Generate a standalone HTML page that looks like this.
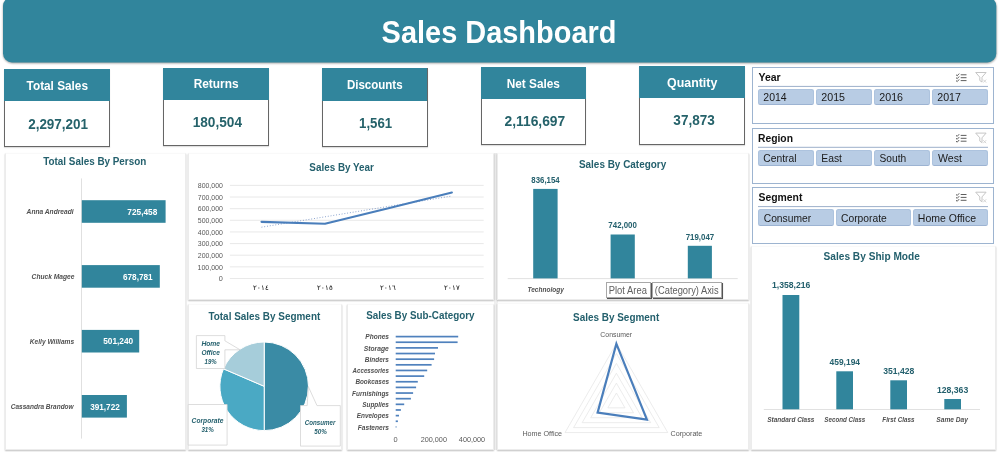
<!DOCTYPE html>
<html lang="en"><head><meta charset="utf-8"><title>Sales Dashboard</title>
<style>
html,body{margin:0;padding:0;background:#fff}
#d{position:relative;width:1000px;height:452px;overflow:hidden;background:#fff;font-family:"Liberation Sans",sans-serif}
#d div,#d svg{position:absolute}
#d span{position:absolute;white-space:nowrap;line-height:1;transform-origin:0 50%;display:block}
</style></head><body><div id="d">
<div style="left:4.4px;top:68.7px;width:105.9px;height:78.6px;background:#fff;border:1px solid #666;box-sizing:border-box;box-shadow:0 1px 1px rgba(0,0,0,.12)"></div>
<div style="left:4.4px;top:68.7px;width:105.6px;height:32.3px;background:#31859c"></div>
<div style="left:162.9px;top:67.6px;width:106.2px;height:78.8px;background:#fff;border:1px solid #666;box-sizing:border-box;box-shadow:0 1px 1px rgba(0,0,0,.12)"></div>
<div style="left:162.9px;top:67.6px;width:105.9px;height:32.4px;background:#31859c"></div>
<div style="left:321.6px;top:68.2px;width:106.2px;height:78.8px;background:#fff;border:1px solid #666;box-sizing:border-box;box-shadow:0 1px 1px rgba(0,0,0,.12)"></div>
<div style="left:321.6px;top:68.2px;width:105.9px;height:32.7px;background:#31859c"></div>
<div style="left:481.0px;top:67.0px;width:105.0px;height:78.2px;background:#fff;border:1px solid #666;box-sizing:border-box;box-shadow:0 1px 1px rgba(0,0,0,.12)"></div>
<div style="left:481.0px;top:67.0px;width:104.7px;height:32.1px;background:#31859c"></div>
<div style="left:639.4px;top:66.4px;width:105.6px;height:78.2px;background:#fff;border:1px solid #666;box-sizing:border-box;box-shadow:0 1px 1px rgba(0,0,0,.12)"></div>
<div style="left:639.4px;top:66.4px;width:105.3px;height:32.1px;background:#31859c"></div>
<div style="left:751.7px;top:66.8px;width:242.5px;height:57.3px;background:#fff;border:1px solid #9db4d0;box-sizing:border-box"></div>
<div style="left:758.0px;top:89.2px;width:56.3px;height:16.3px;background:#b8cce4;border:1px solid #adc3de;border-bottom-color:#9cb3d2;border-radius:2.5px;box-sizing:border-box"></div>
<div style="left:815.9px;top:89.2px;width:56.5px;height:16.3px;background:#b8cce4;border:1px solid #adc3de;border-bottom-color:#9cb3d2;border-radius:2.5px;box-sizing:border-box"></div>
<div style="left:874.0px;top:89.2px;width:56.3px;height:16.3px;background:#b8cce4;border:1px solid #adc3de;border-bottom-color:#9cb3d2;border-radius:2.5px;box-sizing:border-box"></div>
<div style="left:932.0px;top:89.2px;width:56.0px;height:16.3px;background:#b8cce4;border:1px solid #adc3de;border-bottom-color:#9cb3d2;border-radius:2.5px;box-sizing:border-box"></div>
<div style="left:751.7px;top:127.7px;width:242.5px;height:56.3px;background:#fff;border:1px solid #9db4d0;box-sizing:border-box"></div>
<div style="left:758.0px;top:150.1px;width:56.3px;height:16.3px;background:#b8cce4;border:1px solid #adc3de;border-bottom-color:#9cb3d2;border-radius:2.5px;box-sizing:border-box"></div>
<div style="left:815.9px;top:150.1px;width:56.5px;height:16.3px;background:#b8cce4;border:1px solid #adc3de;border-bottom-color:#9cb3d2;border-radius:2.5px;box-sizing:border-box"></div>
<div style="left:874.0px;top:150.1px;width:56.3px;height:16.3px;background:#b8cce4;border:1px solid #adc3de;border-bottom-color:#9cb3d2;border-radius:2.5px;box-sizing:border-box"></div>
<div style="left:932.0px;top:150.1px;width:56.0px;height:16.3px;background:#b8cce4;border:1px solid #adc3de;border-bottom-color:#9cb3d2;border-radius:2.5px;box-sizing:border-box"></div>
<div style="left:751.7px;top:187.0px;width:242.5px;height:57.3px;background:#fff;border:1px solid #9db4d0;box-sizing:border-box"></div>
<div style="left:758.2px;top:209.4px;width:76.0px;height:16.3px;background:#b8cce4;border:1px solid #adc3de;border-bottom-color:#9cb3d2;border-radius:2.5px;box-sizing:border-box"></div>
<div style="left:835.6px;top:209.4px;width:75.9px;height:16.3px;background:#b8cce4;border:1px solid #adc3de;border-bottom-color:#9cb3d2;border-radius:2.5px;box-sizing:border-box"></div>
<div style="left:912.9px;top:209.4px;width:75.1px;height:16.3px;background:#b8cce4;border:1px solid #adc3de;border-bottom-color:#9cb3d2;border-radius:2.5px;box-sizing:border-box"></div>
<div style="left:494.0px;top:153.0px;width:4.0px;height:297.0px;background:#efefef"></div>
<div style="left:494.0px;top:153.0px;width:4.0px;height:147.0px;background:#eaeaea"></div>
<div style="left:4.8px;top:152.5px;width:181.2px;height:297.5px;background:#fff;border:1px solid #ececec;border-top-color:#f9f9f9;box-sizing:border-box;box-shadow:0 1px 1.5px rgba(0,0,0,.25)"></div>
<div style="left:187.6px;top:152.8px;width:306.7px;height:147.6px;background:#fff;border:1px solid #ececec;border-top-color:#f9f9f9;box-sizing:border-box;box-shadow:0 1px 1.5px rgba(0,0,0,.25)"></div>
<div style="left:497.1px;top:152.6px;width:251.9px;height:147.8px;background:#fff;border:1px solid #ececec;border-top-color:#f9f9f9;box-sizing:border-box;box-shadow:0 1px 1.5px rgba(0,0,0,.25)"></div>
<div style="left:187.8px;top:303.6px;width:154.7px;height:146.4px;background:#fff;border:1px solid #ececec;border-top-color:#f9f9f9;box-sizing:border-box;box-shadow:0 1px 1.5px rgba(0,0,0,.25)"></div>
<div style="left:346.9px;top:303.6px;width:146.7px;height:146.4px;background:#fff;border:1px solid #ececec;border-top-color:#f9f9f9;box-sizing:border-box;box-shadow:0 1px 1.5px rgba(0,0,0,.25)"></div>
<div style="left:496.9px;top:303.0px;width:252.1px;height:147.0px;background:#fff;border:1px solid #ececec;border-top-color:#f9f9f9;box-sizing:border-box;box-shadow:0 1px 1.5px rgba(0,0,0,.25)"></div>
<div style="left:751.3px;top:245.6px;width:244.7px;height:204.4px;background:#fff;border:1px solid #ececec;border-top-color:#f9f9f9;box-sizing:border-box;box-shadow:0 1px 1.5px rgba(0,0,0,.25)"></div>
<svg style="left:0;top:0" width="1000" height="452" viewBox="0 0 1000 452"><defs><filter id="bs" x="-5%" y="-20%" width="110%" height="150%"><feGaussianBlur stdDeviation="1.3"/></filter></defs><rect x="3.2" y="-2" width="993.2" height="65.2" rx="9" fill="#000" opacity="0.42" filter="url(#bs)"/><rect x="3" y="-3" width="993.3" height="65.5" rx="9" fill="#31859c"/><rect x="758" y="85.9" width="230" height="1" fill="#9db0ca"/><g transform="translate(955.7,73.2)" fill="none" stroke="#555" stroke-width="0.95"><path d="M0.3 1.5l1.2 1.1 2-2.2M0.3 4.4l1.2 1.1 2-2.2M0.3 7.3l1.2 1.1 2-2.2"/><path d="M5 1.6h5.8M5 4.5h5.8M5 7.4h5.8"/></g><g transform="translate(975.2,72.0)" fill="none" stroke="#c6c6c6" stroke-width="1"><path d="M0.5 0.5h10.4l-4.1 4.7v4.8l-2.2-1.5v-3.3z"/><path d="M8 7.6l3 3M11 7.6l-3 3" stroke="#d0d0d0" stroke-width="0.9"/></g><rect x="758" y="146.8" width="230" height="1" fill="#9db0ca"/><g transform="translate(955.7,133.8)" fill="none" stroke="#555" stroke-width="0.95"><path d="M0.3 1.5l1.2 1.1 2-2.2M0.3 4.4l1.2 1.1 2-2.2M0.3 7.3l1.2 1.1 2-2.2"/><path d="M5 1.6h5.8M5 4.5h5.8M5 7.4h5.8"/></g><g transform="translate(975.2,132.6)" fill="none" stroke="#c6c6c6" stroke-width="1"><path d="M0.5 0.5h10.4l-4.1 4.7v4.8l-2.2-1.5v-3.3z"/><path d="M8 7.6l3 3M11 7.6l-3 3" stroke="#d0d0d0" stroke-width="0.9"/></g><rect x="758" y="206.1" width="230" height="1" fill="#9db0ca"/><g transform="translate(955.7,192.9)" fill="none" stroke="#555" stroke-width="0.95"><path d="M0.3 1.5l1.2 1.1 2-2.2M0.3 4.4l1.2 1.1 2-2.2M0.3 7.3l1.2 1.1 2-2.2"/><path d="M5 1.6h5.8M5 4.5h5.8M5 7.4h5.8"/></g><g transform="translate(975.2,191.7)" fill="none" stroke="#c6c6c6" stroke-width="1"><path d="M0.5 0.5h10.4l-4.1 4.7v4.8l-2.2-1.5v-3.3z"/><path d="M8 7.6l3 3M11 7.6l-3 3" stroke="#d0d0d0" stroke-width="0.9"/></g><rect x="81.0" y="178.4" width="0.8" height="260.2" fill="#d9d9d9"/><rect x="81.8" y="200.2" width="83.8" height="22.6" fill="#31859c"/><rect x="81.8" y="265.1" width="78.0" height="22.6" fill="#31859c"/><rect x="81.8" y="329.9" width="57.4" height="22.6" fill="#31859c"/><rect x="81.8" y="395.0" width="45.1" height="22.6" fill="#31859c"/><line x1="229.9" x2="483.7" y1="278.50" y2="278.50" stroke="#e3e3e3" stroke-width="0.8"/><line x1="229.9" x2="483.7" y1="266.86" y2="266.86" stroke="#e3e3e3" stroke-width="0.8"/><line x1="229.9" x2="483.7" y1="255.22" y2="255.22" stroke="#e3e3e3" stroke-width="0.8"/><line x1="229.9" x2="483.7" y1="243.59" y2="243.59" stroke="#e3e3e3" stroke-width="0.8"/><line x1="229.9" x2="483.7" y1="231.95" y2="231.95" stroke="#e3e3e3" stroke-width="0.8"/><line x1="229.9" x2="483.7" y1="220.31" y2="220.31" stroke="#e3e3e3" stroke-width="0.8"/><line x1="229.9" x2="483.7" y1="208.68" y2="208.68" stroke="#e3e3e3" stroke-width="0.8"/><line x1="229.9" x2="483.7" y1="197.04" y2="197.04" stroke="#e3e3e3" stroke-width="0.8"/><line x1="229.9" x2="483.7" y1="185.40" y2="185.40" stroke="#e3e3e3" stroke-width="0.8"/><line x1="261.5" y1="227.2" x2="451.9" y2="196.0" stroke="#7592c4" stroke-width="0.9" stroke-dasharray="0.9 1.9"/><polyline fill="none" stroke="#4a7ebb" stroke-width="2.1" stroke-linejoin="round" stroke-linecap="round" points="261.5,221.9 325.0,223.7 388.4,208.2 451.9,192.6"/><line x1="507.7" x2="737.7" y1="278.6" y2="278.6" stroke="#d9d9d9" stroke-width="0.8"/><rect x="533.2" y="188.9" width="24.4" height="89.5" fill="#31859c"/><rect x="610.6" y="234.5" width="24.2" height="43.9" fill="#31859c"/><rect x="687.8" y="245.8" width="24.1" height="32.6" fill="#31859c"/><line x1="763.8" x2="980" y1="409.5" y2="409.5" stroke="#d9d9d9" stroke-width="0.8"/><rect x="782.5" y="295.0" width="16.8" height="114.3" fill="#31859c"/><rect x="836.3" y="371.3" width="16.7" height="38.0" fill="#31859c"/><rect x="890.3" y="380.3" width="16.7" height="29.0" fill="#31859c"/><rect x="944.3" y="399.0" width="16.7" height="10.3" fill="#31859c"/><rect x="395.7" y="335.75" width="62.5" height="1.7" fill="#4f81bd"/><rect x="395.7" y="341.39" width="61.9" height="1.7" fill="#4f81bd"/><rect x="395.7" y="347.04" width="42.3" height="1.7" fill="#4f81bd"/><rect x="395.7" y="352.68" width="39.3" height="1.7" fill="#4f81bd"/><rect x="395.7" y="358.33" width="38.4" height="1.7" fill="#4f81bd"/><rect x="395.7" y="363.97" width="35.9" height="1.7" fill="#4f81bd"/><rect x="395.7" y="369.61" width="31.5" height="1.7" fill="#4f81bd"/><rect x="395.7" y="375.26" width="28.5" height="1.7" fill="#4f81bd"/><rect x="395.7" y="380.90" width="22.1" height="1.7" fill="#4f81bd"/><rect x="395.7" y="386.55" width="20.4" height="1.7" fill="#4f81bd"/><rect x="395.7" y="392.19" width="17.4" height="1.7" fill="#4f81bd"/><rect x="395.7" y="397.83" width="15.2" height="1.7" fill="#4f81bd"/><rect x="395.7" y="403.48" width="8.5" height="1.7" fill="#4f81bd"/><rect x="395.7" y="409.12" width="5.2" height="1.7" fill="#4f81bd"/><rect x="395.7" y="414.77" width="3.3" height="1.7" fill="#4f81bd"/><rect x="395.7" y="420.41" width="2.2" height="1.7" fill="#4f81bd"/><rect x="395.7" y="426.05" width="0.7" height="1.7" fill="#4f81bd"/><path d="M264.2,386.3L264.20,342.00A44.3,44.3 0 0 1 264.20,430.60Z" fill="#3a8ba5" stroke="#fff" stroke-width="1" stroke-linejoin="round"/><path d="M264.2,386.3L264.20,430.60A44.3,44.3 0 0 1 223.48,368.85Z" fill="#4aa9c4" stroke="#fff" stroke-width="1" stroke-linejoin="round"/><path d="M264.2,386.3L223.48,368.85A44.3,44.3 0 0 1 264.20,342.00Z" fill="#a6cdda" stroke="#fff" stroke-width="1" stroke-linejoin="round"/><path d="M196.4,335.6H224.9V340.8L240.1,349.8H224.9V368.5H196.4Z" fill="#fff" stroke="#d4d4d4" stroke-width="0.8"/><path d="M188.2,404.5H227.1V445.1H188.2Z" fill="#fff" stroke="#d4d4d4" stroke-width="0.8"/><path d="M300.5,405.6H307.2L308.3,386.6L317,405.6H340.3V446.1H300.5Z" fill="#fff" stroke="#d4d4d4" stroke-width="0.8"/><polygon fill="none" stroke="#e4e4e4" stroke-width="0.7" points="616.40,393.02 624.96,407.84 607.84,407.84"/><polygon fill="none" stroke="#e4e4e4" stroke-width="0.7" points="616.40,383.13 633.52,412.78 599.28,412.78"/><polygon fill="none" stroke="#e4e4e4" stroke-width="0.7" points="616.40,373.25 642.08,417.72 590.72,417.72"/><polygon fill="none" stroke="#e4e4e4" stroke-width="0.7" points="616.40,363.37 650.64,422.67 582.16,422.67"/><polygon fill="none" stroke="#e4e4e4" stroke-width="0.7" points="616.40,353.48 659.20,427.61 573.60,427.61"/><polygon fill="none" stroke="#e4e4e4" stroke-width="0.7" points="616.40,343.60 667.76,432.55 565.04,432.55"/><polygon fill="none" stroke="#4a7ebb" stroke-width="2.2" stroke-linejoin="miter" points="616.4,343.8 646.9,419.7 597.6,412.6"/></svg>
<div style="left:605.7px;top:282.4px;width:44.9px;height:15.2px;background:#fff;border:1px solid #a8a8a8;box-sizing:border-box;box-shadow:1.2px 1.2px 0.6px rgba(40,40,40,.8)"></div>
<div style="left:651.8px;top:282.4px;width:70.1px;height:15.2px;background:#fff;border:1px solid #a8a8a8;box-sizing:border-box;box-shadow:1.2px 1.2px 0.6px rgba(40,40,40,.8)"></div>
<span style="left:382px;top:16px;font-size:32.0px;font-weight:700;color:#fff;transform:translateX(-0.40px) scaleX(0.9043)">Sales Dashboard</span>
<span style="left:26px;top:80px;font-size:12.0px;font-weight:700;color:#fff;transform:translateX(0.60px) scaleX(0.9823)">Total Sales</span>
<span style="left:194px;top:78px;font-size:12.0px;font-weight:700;color:#fff;transform:translateX(-0.34px) scaleX(0.9898)">Returns</span>
<span style="left:347px;top:79px;font-size:12.0px;font-weight:700;color:#fff;transform:translateX(-0.12px) scaleX(0.9595)">Discounts</span>
<span style="left:507px;top:78px;font-size:12.0px;font-weight:700;color:#fff;transform:translateX(-0.34px) scaleX(0.9858)">Net Sales</span>
<span style="left:667px;top:77px;font-size:12.0px;font-weight:700;color:#fff;transform:translateX(0.08px) scaleX(1.0323)">Quantity</span>
<span style="left:28px;top:117px;font-size:14.5px;font-weight:700;color:#25626a;transform:translateX(0.14px) scaleX(0.9292)">2,297,201</span>
<span style="left:193px;top:115px;font-size:14.5px;font-weight:700;color:#25626a;transform:translateX(-0.34px) scaleX(0.9408)">180,504</span>
<span style="left:360px;top:116px;font-size:14.5px;font-weight:700;color:#25626a;transform:translateX(-0.91px) scaleX(0.9115)">1,561</span>
<span style="left:505px;top:114px;font-size:14.5px;font-weight:700;color:#25626a;transform:translateX(-0.48px) scaleX(0.9528)">2,116,697</span>
<span style="left:673px;top:113px;font-size:14.5px;font-weight:700;color:#25626a;transform:translateX(0.37px) scaleX(0.9345)">37,873</span>
<span style="left:763px;top:92px;font-size:10.6px;color:#1a1a1a;transform:translateX(0.30px) scaleX(0.9912)">2014</span>
<span style="left:821px;top:92px;font-size:10.6px;color:#1a1a1a;transform:translateX(0.30px) scaleX(1.0066)">2015</span>
<span style="left:879px;top:92px;font-size:10.6px;color:#1a1a1a;transform:translateX(0.30px) scaleX(1.0066)">2016</span>
<span style="left:937px;top:92px;font-size:10.6px;color:#1a1a1a;transform:translateX(0.30px) scaleX(1.0023)">2017</span>
<span style="left:758px;top:72px;font-size:11.3px;font-weight:700;color:#111;transform:translateX(0.47px) scaleX(0.9319)">Year</span>
<span style="left:763px;top:153px;font-size:10.6px;color:#1a1a1a;transform:translateX(0.31px) scaleX(0.9727)">Central</span>
<span style="left:822px;top:153px;font-size:10.6px;color:#1a1a1a;transform:translateX(-0.73px) scaleX(0.9756)">East</span>
<span style="left:880px;top:153px;font-size:10.6px;color:#1a1a1a;transform:translateX(-0.48px) scaleX(0.9623)">South</span>
<span style="left:938px;top:153px;font-size:10.6px;color:#1a1a1a;transform:translateX(0.00px) scaleX(1.0000)">West</span>
<span style="left:758px;top:133px;font-size:11.3px;font-weight:700;color:#111;transform:translateX(0.02px) scaleX(0.9129)">Region</span>
<span style="left:764px;top:213px;font-size:10.6px;color:#1a1a1a;transform:translateX(-0.29px) scaleX(0.9720)">Consumer</span>
<span style="left:841px;top:213px;font-size:10.6px;color:#1a1a1a;transform:translateX(0.01px) scaleX(0.9707)">Corporate</span>
<span style="left:918px;top:213px;font-size:10.6px;color:#1a1a1a;transform:translateX(-0.14px) scaleX(0.9904)">Home Office</span>
<span style="left:758px;top:192px;font-size:11.3px;font-weight:700;color:#111;transform:translateX(0.47px) scaleX(0.9206)">Segment</span>
<span style="left:43px;top:157px;font-size:10.1px;font-weight:700;color:#24606d;transform:translateX(0.20px) scaleX(0.9790)">Total Sales By Person</span>
<span style="left:26px;top:208px;font-size:7.6px;font-weight:700;font-style:italic;color:#505050;transform:translateX(0.60px) scaleX(0.8744)">Anna Andreadi</span>
<span style="left:127px;top:207px;font-size:9.4px;font-weight:700;color:#fff;transform:translateX(0.36px) scaleX(0.8827)">725,458</span>
<span style="left:31px;top:273px;font-size:7.6px;font-weight:700;font-style:italic;color:#505050;transform:translateX(0.58px) scaleX(0.8753)">Chuck Magee</span>
<span style="left:123px;top:272px;font-size:9.4px;font-weight:700;color:#fff;transform:translateX(-0.02px) scaleX(0.8762)">678,781</span>
<span style="left:30px;top:338px;font-size:7.6px;font-weight:700;font-style:italic;color:#505050;transform:translateX(-0.22px) scaleX(0.8693)">Kelly Williams</span>
<span style="left:103px;top:336px;font-size:9.4px;font-weight:700;color:#fff;transform:translateX(0.18px) scaleX(0.8857)">501,240</span>
<span style="left:11px;top:403px;font-size:7.6px;font-weight:700;font-style:italic;color:#505050;transform:translateX(-0.21px) scaleX(0.8558)">Cassandra Brandow</span>
<span style="left:90px;top:402px;font-size:9.4px;font-weight:700;color:#fff;transform:translateX(0.18px) scaleX(0.8722)">391,722</span>
<span style="left:309px;top:163px;font-size:10.1px;font-weight:700;color:#24606d;transform:translateX(0.36px) scaleX(0.9780)">Sales By Year</span>
<span style="left:219px;top:275px;font-size:7.3px;color:#595959;transform:translateX(-0.15px) scaleX(1.0000)">0</span>
<span style="left:198px;top:264px;font-size:7.3px;color:#595959;transform:translateX(-0.48px) scaleX(0.9628)">100,000</span>
<span style="left:198px;top:252px;font-size:7.3px;color:#595959;transform:translateX(-0.24px) scaleX(0.9534)">200,000</span>
<span style="left:198px;top:240px;font-size:7.3px;color:#595959;transform:translateX(-0.24px) scaleX(0.9534)">300,000</span>
<span style="left:198px;top:229px;font-size:7.3px;color:#595959;transform:translateX(-0.24px) scaleX(0.9534)">400,000</span>
<span style="left:198px;top:217px;font-size:7.3px;color:#595959;transform:translateX(-0.24px) scaleX(0.9534)">500,000</span>
<span style="left:198px;top:205px;font-size:7.3px;color:#595959;transform:translateX(-0.24px) scaleX(0.9534)">600,000</span>
<span style="left:198px;top:194px;font-size:7.3px;color:#595959;transform:translateX(-0.24px) scaleX(0.9534)">700,000</span>
<span style="left:198px;top:182px;font-size:7.3px;color:#595959;transform:translateX(-0.24px) scaleX(0.9534)">800,000</span>
<span style="left:253px;top:285px;font-size:6.6px;font-family:"DejaVu Sans", sans-serif;color:#a6a6a6;transform:translateX(0.08px) scaleX(1.1381)">٢٠١٤</span>
<span style="left:317px;top:285px;font-size:6.6px;font-family:"DejaVu Sans", sans-serif;color:#a6a6a6;transform:translateX(-0.42px) scaleX(1.1381)">٢٠١٥</span>
<span style="left:380px;top:285px;font-size:6.6px;font-family:"DejaVu Sans", sans-serif;color:#a6a6a6;transform:translateX(0.01px) scaleX(1.0822)">٢٠١٦</span>
<span style="left:444px;top:285px;font-size:6.6px;font-family:"DejaVu Sans", sans-serif;color:#a6a6a6;transform:translateX(-0.49px) scaleX(1.0822)">٢٠١٧</span>
<span style="left:579px;top:160px;font-size:10.1px;font-weight:700;color:#24606d;transform:translateX(-0.05px) scaleX(0.9847)">Sales By Category</span>
<span style="left:531px;top:176px;font-size:8.6px;font-weight:700;color:#24606d;transform:translateX(0.37px) scaleX(0.9106)">836,154</span>
<span style="left:608px;top:221px;font-size:8.6px;font-weight:700;color:#24606d;transform:translateX(0.37px) scaleX(0.9180)">742,000</span>
<span style="left:685px;top:233px;font-size:8.6px;font-weight:700;color:#24606d;transform:translateX(0.67px) scaleX(0.9180)">719,047</span>
<span style="left:527px;top:286px;font-size:7.6px;font-weight:700;font-style:italic;color:#505050;transform:translateX(0.47px) scaleX(0.8583)">Technology</span>
<span style="left:609px;top:286px;font-size:10.3px;color:#606060;transform:translateX(-0.29px) scaleX(0.9134)">Plot Area</span>
<span style="left:655px;top:286px;font-size:10.3px;color:#606060;transform:translateX(-0.15px) scaleX(0.9058)">(Category) Axis</span>
<span style="left:208px;top:312px;font-size:10.1px;font-weight:700;color:#24606d;transform:translateX(0.40px) scaleX(0.9841)">Total Sales By Segment</span>
<span style="left:201px;top:340px;font-size:7.8px;font-weight:700;font-style:italic;color:#24606d;transform:translateX(0.38px) scaleX(0.8636)">Home</span>
<span style="left:201px;top:349px;font-size:7.8px;font-weight:700;font-style:italic;color:#24606d;transform:translateX(0.39px) scaleX(0.8419)">Office</span>
<span style="left:204px;top:358px;font-size:7.8px;font-weight:700;font-style:italic;color:#24606d;transform:translateX(0.60px) scaleX(0.7742)">19%</span>
<span style="left:191px;top:417px;font-size:7.8px;font-weight:700;font-style:italic;color:#24606d;transform:translateX(0.59px) scaleX(0.8558)">Corporate</span>
<span style="left:201px;top:426px;font-size:7.8px;font-weight:700;font-style:italic;color:#24606d;transform:translateX(0.40px) scaleX(0.7969)">31%</span>
<span style="left:305px;top:419px;font-size:7.8px;font-weight:700;font-style:italic;color:#24606d;transform:translateX(-0.20px) scaleX(0.7935)">Consumer</span>
<span style="left:314px;top:428px;font-size:7.8px;font-weight:700;font-style:italic;color:#24606d;transform:translateX(0.20px) scaleX(0.8033)">50%</span>
<span style="left:366px;top:311px;font-size:10.1px;font-weight:700;color:#24606d;transform:translateX(0.16px) scaleX(0.9752)">Sales By Sub-Category</span>
<span style="left:365px;top:333px;font-size:7.6px;font-weight:700;font-style:italic;color:#505050;transform:translateX(0.28px) scaleX(0.8649)">Phones</span>
<span style="left:364px;top:345px;font-size:7.6px;font-weight:700;font-style:italic;color:#505050;transform:translateX(-0.22px) scaleX(0.8865)">Storage</span>
<span style="left:365px;top:356px;font-size:7.6px;font-weight:700;font-style:italic;color:#505050;transform:translateX(-0.21px) scaleX(0.8505)">Binders</span>
<span style="left:352px;top:367px;font-size:7.6px;font-weight:700;font-style:italic;color:#505050;transform:translateX(0.60px) scaleX(0.8101)">Accessories</span>
<span style="left:355px;top:378px;font-size:7.6px;font-weight:700;font-style:italic;color:#505050;transform:translateX(0.39px) scaleX(0.8367)">Bookcases</span>
<span style="left:352px;top:390px;font-size:7.6px;font-weight:700;font-style:italic;color:#505050;transform:translateX(0.09px) scaleX(0.8477)">Furnishings</span>
<span style="left:362px;top:401px;font-size:7.6px;font-weight:700;font-style:italic;color:#505050;transform:translateX(0.19px) scaleX(0.8448)">Supplies</span>
<span style="left:357px;top:412px;font-size:7.6px;font-weight:700;font-style:italic;color:#505050;transform:translateX(-0.21px) scaleX(0.8427)">Envelopes</span>
<span style="left:358px;top:424px;font-size:7.6px;font-weight:700;font-style:italic;color:#505050;transform:translateX(-0.22px) scaleX(0.8681)">Fasteners</span>
<span style="left:393px;top:436px;font-size:7.3px;color:#595959;transform:translateX(0.55px) scaleX(1.0156)">0</span>
<span style="left:420px;top:436px;font-size:7.3px;color:#595959;transform:translateX(0.65px) scaleX(0.9962)">200,000</span>
<span style="left:459px;top:436px;font-size:7.3px;color:#595959;transform:translateX(-0.15px) scaleX(0.9962)">400,000</span>
<span style="left:573px;top:313px;font-size:10.1px;font-weight:700;color:#24606d;transform:translateX(0.05px) scaleX(0.9845)">Sales By Segment</span>
<span style="left:600px;top:331px;font-size:7.6px;color:#595959;transform:translateX(0.37px) scaleX(0.9051)">Consumer</span>
<span style="left:522px;top:430px;font-size:7.6px;color:#595959;transform:translateX(0.43px) scaleX(0.9430)">Home Office</span>
<span style="left:670px;top:430px;font-size:7.6px;color:#595959;transform:translateX(0.46px) scaleX(0.9444)">Corporate</span>
<span style="left:823px;top:252px;font-size:10.1px;font-weight:700;color:#24606d;transform:translateX(0.55px) scaleX(1.0042)">Sales By Ship Mode</span>
<span style="left:772px;top:281px;font-size:8.8px;font-weight:700;color:#24606d;transform:translateX(0.01px) scaleX(0.9804)">1,358,216</span>
<span style="left:829px;top:358px;font-size:8.8px;font-weight:700;color:#24606d;transform:translateX(0.50px) scaleX(0.9606)">459,194</span>
<span style="left:883px;top:367px;font-size:8.8px;font-weight:700;color:#24606d;transform:translateX(0.16px) scaleX(0.9776)">351,428</span>
<span style="left:937px;top:386px;font-size:8.8px;font-weight:700;color:#24606d;transform:translateX(-0.09px) scaleX(0.9855)">128,363</span>
<span style="left:767px;top:416px;font-size:7.6px;font-weight:700;font-style:italic;color:#505050;transform:translateX(0.29px) scaleX(0.8521)">Standard Class</span>
<span style="left:824px;top:416px;font-size:7.6px;font-weight:700;font-style:italic;color:#505050;transform:translateX(0.29px) scaleX(0.8223)">Second Class</span>
<span style="left:882px;top:416px;font-size:7.6px;font-weight:700;font-style:italic;color:#505050;transform:translateX(0.29px) scaleX(0.8275)">First Class</span>
<span style="left:936px;top:416px;font-size:7.6px;font-weight:700;font-style:italic;color:#505050;transform:translateX(0.28px) scaleX(0.8731)">Same Day</span>
</div></body></html>
